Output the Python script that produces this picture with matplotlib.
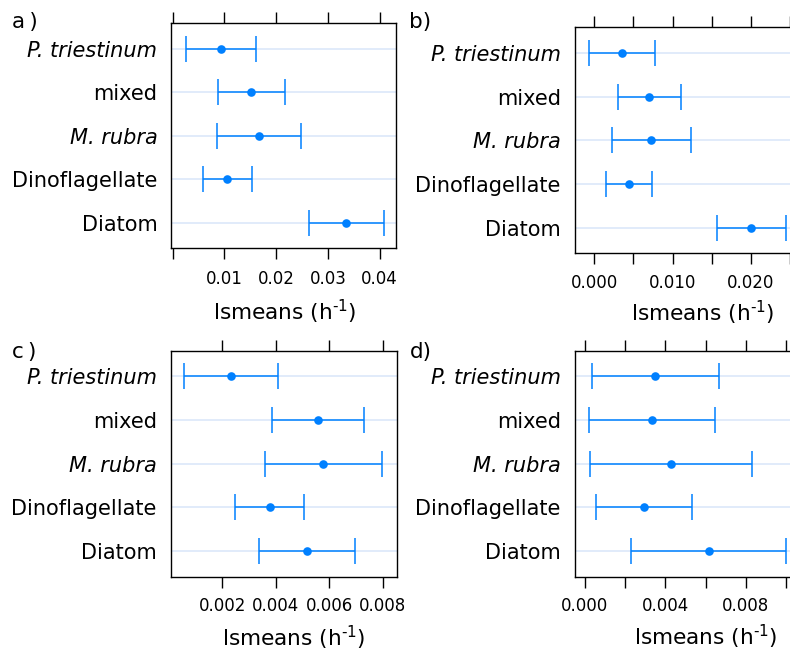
import matplotlib.pyplot as plt

W, H = 790, 652
BLUE = "#0080ff"
GRID = "#dce8fa"

groups = ["P. triestinum", "mixed", "M. rubra", "Dinoflagellate", "Diatom"]
italic = [True, False, True, False, False]

# lsmeans with lower / upper confidence limits (h^-1)
a_mean = [0.0093, 0.0152, 0.0167, 0.0105, 0.0336]
a_lo = [0.0025, 0.0087, 0.0085, 0.0058, 0.0264]
a_hi = [0.0162, 0.0217, 0.0249, 0.0153, 0.0408]

b_mean = [0.0035, 0.0070, 0.0073, 0.0044, 0.0200]
b_lo = [-0.0007, 0.0030, 0.0023, 0.0015, 0.0157]
b_hi = [0.0077, 0.0111, 0.0123, 0.0074, 0.0245]

c_mean = [0.00234, 0.00557, 0.00577, 0.00377, 0.00517]
c_lo = [0.00058, 0.00386, 0.00360, 0.00247, 0.00336]
c_hi = [0.00409, 0.00730, 0.00796, 0.00504, 0.00696]

d_mean = [0.00349, 0.00334, 0.00429, 0.00295, 0.00616]
d_lo = [0.00035, 0.00021, 0.00026, 0.00055, 0.00230]
d_hi = [0.00666, 0.00647, 0.00830, 0.00535, 0.00998]

a_ticks = [0.0, 0.01, 0.02, 0.03, 0.04]
a_ticklabels = ["", "0.01", "0.02", "0.03", "0.04"]
b_ticks = [0.0, 0.005, 0.010, 0.015, 0.020, 0.025, 0.030]
b_ticklabels = ["0.000", "", "0.010", "", "0.020", "", ""]
c_ticks = [0.002, 0.004, 0.006, 0.008]
c_ticklabels = ["0.002", "0.004", "0.006", "0.008"]
d_ticks = [0.0, 0.002, 0.004, 0.006, 0.008, 0.010, 0.012]
d_ticklabels = ["0.000", "", "0.004", "", "0.008", "", ""]


def px_axes(fig, box):
    left, top, right, bottom = box
    return fig.add_axes([left / W, 1 - bottom / H, (right - left) / W, (bottom - top) / H])


def panel(ax, box, mean, lo, hi, xlim, ticks, ticklabels, tpad, lab_x, lab_base):
    left, top, right, bottom = box
    y = list(range(len(groups) - 1, -1, -1))
    for yy in y:
        ax.axhline(yy, color=GRID, lw=1.2, zorder=0)
    err = [[m - l for m, l in zip(mean, lo)], [h - m for m, h in zip(mean, hi)]]
    ax.errorbar(mean, y, xerr=err, fmt="none", ecolor=BLUE,
                elinewidth=1.1, capsize=9.7, capthick=1.1, zorder=3)
    ax.plot(mean, y, "o", color=BLUE, ms=6.2, mew=0, zorder=4)
    ax.set_xlim(*xlim)
    ax.set_ylim(-0.59, len(groups) - 1 + 0.59)
    ax.set_yticks(y)
    ax.set_yticklabels(groups, fontsize=15)
    for lab, it in zip(ax.get_yticklabels(), italic):
        if it:
            lab.set_fontstyle("italic")
    ax.tick_params(axis="y", length=0, pad=10)
    ax.set_xticks(ticks)
    ax.set_xticklabels(ticklabels, fontsize=12)
    ax.tick_params(axis="x", top=True, bottom=True, direction="out",
                   length=7.6, width=1, pad=tpad)
    ax.set_xlabel(r"lsmeans (h$^{\text{-}1}$)", fontsize=15.6, va="baseline")
    ax.xaxis.set_label_coords((lab_x - left) / (right - left),
                              -(lab_base - bottom) / (bottom - top))
    for s in ax.spines.values():
        s.set_linewidth(1.0)


fig = plt.figure(figsize=(W / 100, H / 100), dpi=100)

box_a = (171.3, 23.3, 396, 248.3)
panel(px_axes(fig, box_a), box_a, a_mean, a_lo, a_hi, (-0.00027, 0.04317),
      a_ticks, a_ticklabels, 8.0, 285, 320)

box_b = (574.7, 27.3, 831, 253.3)
panel(px_axes(fig, box_b), box_b, b_mean, b_lo, b_hi, (-0.0025, 0.03022),
      b_ticks, b_ticklabels, 7.1, 703, 321.5)

box_c = (170.7, 350.7, 396.7, 576.7)
panel(px_axes(fig, box_c), box_c, c_mean, c_lo, c_hi, (0.0000673, 0.00852),
      c_ticks, c_ticklabels, 7.1, 294, 646.5)

box_d = (574.7, 350.7, 837, 576.7)
panel(px_axes(fig, box_d), box_d, d_mean, d_lo, d_hi, (-0.0005, 0.01253),
      d_ticks, d_ticklabels, 7.1, 706, 645)

for tag, x, y in [("a\u2009)", 12, 22), ("b)", 409, 22), ("c\u2009)", 12, 352), ("d)", 410, 352)]:
    fig.text(x / W, 1 - y / H, tag, fontsize=15.5, ha="left", va="center")

fig.savefig("out.png", dpi=100)
